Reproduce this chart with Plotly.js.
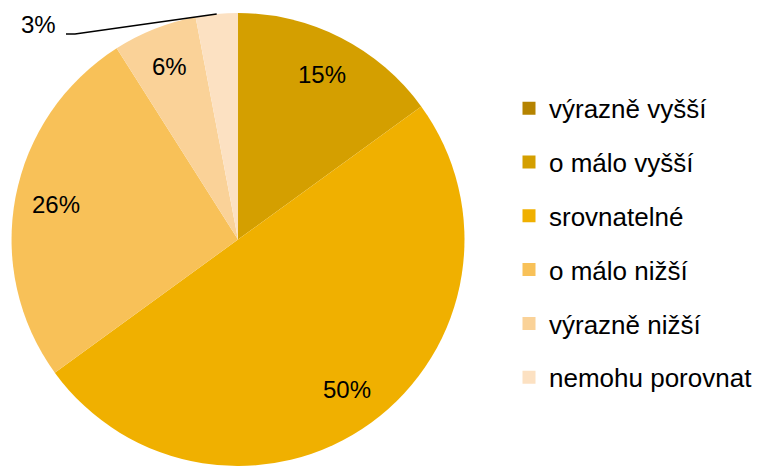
<!DOCTYPE html>
<html><head><meta charset="utf-8">
<script src="https://cdn.plot.ly/plotly-3.0.1.min.js"></script>
<style>body{margin:0}#c{width:758px;height:466px}</style></head>
<body><div id="c"></div>
<script>
const categories = ["výrazně vyšší","o málo vyšší","srovnatelné","o málo nižší","výrazně nižší","nemohu porovnat"];
const values = [0, 15, 50, 26, 6, 3];
const colors = ["#B58300","#D49F00","#F0B000","#F8C158","#FAD298","#FCE1C2"];
const valueLabels = ["", "15%", "50%", "26%", "6%", "3%"];
const outsideIndex = 5;

const W = 758, H = 466;
const dom = {x: [0.0145, 0.6135], y: [0, 0.972]};
const cx = (dom.x[0] + dom.x[1]) / 2 * W;
const cy = H - (dom.y[0] + dom.y[1]) / 2 * H;
const R = Math.min((dom.x[1]-dom.x[0]) * W, (dom.y[1]-dom.y[0]) * H) / 2;
const FONT = "Liberation Sans, Arial, sans-serif";

const pie = {
  type: "pie",
  labels: categories,
  values: values,
  sort: false,
  direction: "clockwise",
  rotation: 0,
  marker: {colors: colors, line: {width: 0}},
  textinfo: "none",
  domain: dom,
  showlegend: false,
  hoverinfo: "label+value"
};

// legend entries as marker-only dummy traces, one per category
const legendTraces = categories.map((c, i) => ({
  type: "scatter", mode: "markers", x: [null], y: [null],
  name: c, legendgroup: "g" + i,
  marker: {symbol: "square", size: 13, color: colors[i]},
  hoverinfo: "skip"
}));

// label positions derived from the data: mid-angle of each slice
const total = values.reduce((a, b) => a + b, 0);
const annotations = [];
const shapes = [];
let cum = 0;
values.forEach((v, i) => {
  const mid = (cum + v / 2) / total * 2 * Math.PI;
  cum += v;
  if (!valueLabels[i]) return;
  let px, py;
  if (i === outsideIndex) {
    const tipX = cx + R * Math.sin(mid), tipY = cy - R * Math.cos(mid);
    px = 38; py = 25;
    shapes.push({type: "path", xref: "paper", yref: "paper",
      path: `M ${66/W},${1-34/H} L ${75/W},${1-34/H} L ${tipX/W},${1-tipY/H}`,
      line: {color: "#000", width: 1.5}});
  } else {
    const r = 0.82 * R;
    px = cx + r * Math.sin(mid); py = cy - r * Math.cos(mid);
  }
  annotations.push({text: valueLabels[i], xref: "paper", yref: "paper",
    x: px / W, y: 1 - py / H, xanchor: "center", yanchor: "middle", showarrow: false,
    font: {family: FONT, size: 24, color: "#000"}});
});

const layout = {
  width: W, height: H,
  margin: {l: 0, r: 0, t: 0, b: 0},
  paper_bgcolor: "#fff", plot_bgcolor: "rgba(0,0,0,0)",
  xaxis: {visible: false}, yaxis: {visible: false},
  showlegend: true,
  legend: {
    x: 1, y: 0.818, xanchor: "right", yanchor: "top",
    font: {family: FONT, size: 26, color: "#000"},
    tracegroupgap: 17, itemwidth: 30, itemclick: false, traceorder: "grouped"
  },
  annotations: annotations,
  shapes: shapes
};
Plotly.newPlot("c", [pie, ...legendTraces], layout, {displayModeBar: false, staticPlot: true});
</script></body></html>
